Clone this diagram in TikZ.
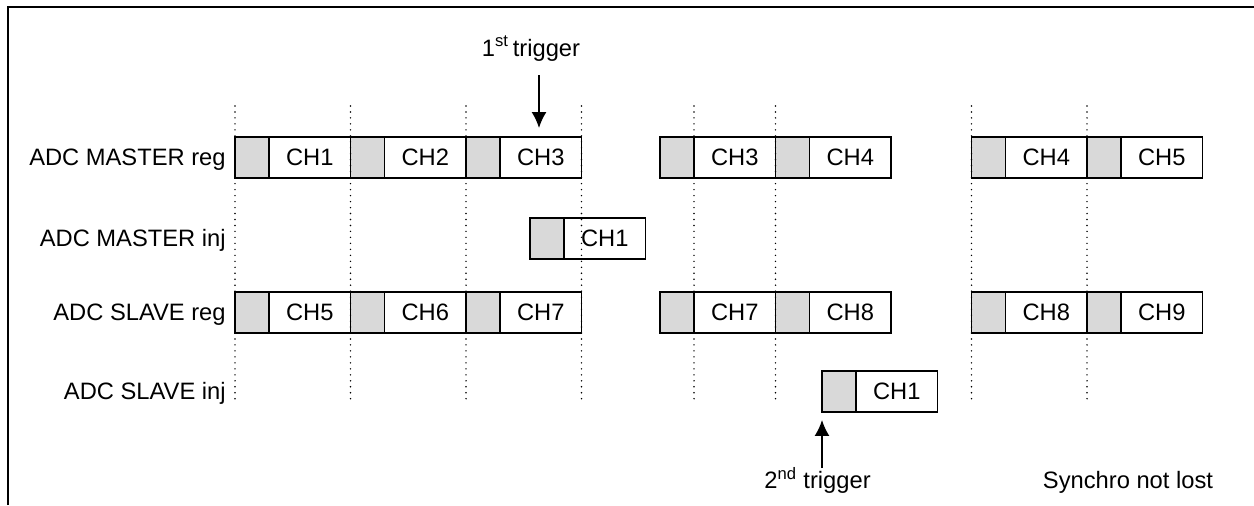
\documentclass[tikz,border=0pt]{standalone}
\usepackage{fontspec}
\setmainfont{Liberation Sans}
\usetikzlibrary{
    arrows.meta,
    positioning
}

\definecolor{slotgray}{RGB}{217,217,217}

\tikzset{
    conv/.style={draw, line width=0.9pt, fill=slotgray, minimum width=0.68cm,
        minimum height=0.82cm, inner sep=0pt, outer sep=0pt},
    chan/.style={draw, line width=0.9pt, minimum width=1.63cm,
        minimum height=0.82cm, inner sep=0pt, outer sep=0pt},
    lbl/.style={anchor=base east, inner sep=0pt},
    tick/.style={line width=0.9pt, line cap=round, dash pattern=on 0pt off 3.4pt},
    trigarrow/.style={-{Latex[length=0.32cm, width=0.3cm]}, line width=0.9pt}
}

\begin{document}
\begin{tikzpicture}[x=0.02cm, y=0.02cm, font=\fontsize{13.5}{16}\selectfont]

\useasboundingbox (0,0) rectangle (1254,505);

% frame
\draw[line width=1.1pt] (8,0) -- (8,498) -- (1260,498);

% row labels
\node[lbl] (mreg) at (226,339.5) {ADC MASTER reg};
\node[lbl] (minj) at (226,258.5) {ADC MASTER inj};
\node[lbl] (sreg) at (226,184.5) {ADC SLAVE reg};
\node[lbl] (sinj) at (226,105.5) {ADC SLAVE inj};

% ADC MASTER reg
\foreach \x/\ch [count=\i] in {235/1, 350.5/2, 466/3, 660/3, 775.5/4, 971.5/4, 1087/5} {
    \node[conv, anchor=west] (mg\i) at (\x,347.5) {};
    \node[chan, right=0pt of mg\i] (mc\i) {CH\ch};
}

% ADC MASTER inj
\node[conv, anchor=west] (mig) at (530,266.5) {};
\node[chan, right=0pt of mig] (mic) {CH1};

% ADC SLAVE reg
\foreach \x/\ch [count=\i] in {235/5, 350.5/6, 466/7, 660/7, 775.5/8, 971.5/8, 1087/9} {
    \node[conv, anchor=west] (sg\i) at (\x,192.5) {};
    \node[chan, right=0pt of sg\i] (sc\i) {CH\ch};
}

% ADC SLAVE inj
\node[conv, anchor=west] (sig) at (822,113.5) {};
\node[chan, right=0pt of sig] (sic) {CH1};

% sampling instants
\foreach \x in {235, 350.5, 466, 581.5, 694, 775.5, 971.5, 1087}
    \draw[tick] (\x,399) -- (\x,105);

% triggers
\node[anchor=base] (trig1) at (531,449) {1\textsuperscript{st}\,trigger};
\coordinate (t1) at (539,430);
\draw[trigarrow, shorten >=0.18cm] (t1) -- (t1 |- mc3.north);

\node[anchor=base] (trig2) at (817.5,16.5) {2\textsuperscript{nd} trigger};
\coordinate (t2) at (822,37);
\draw[trigarrow, shorten >=0.16cm] (t2) -- (sig.south west);

\node[anchor=base] (sync) at (1128,16.5) {Synchro not lost};

\end{tikzpicture}
\end{document}
